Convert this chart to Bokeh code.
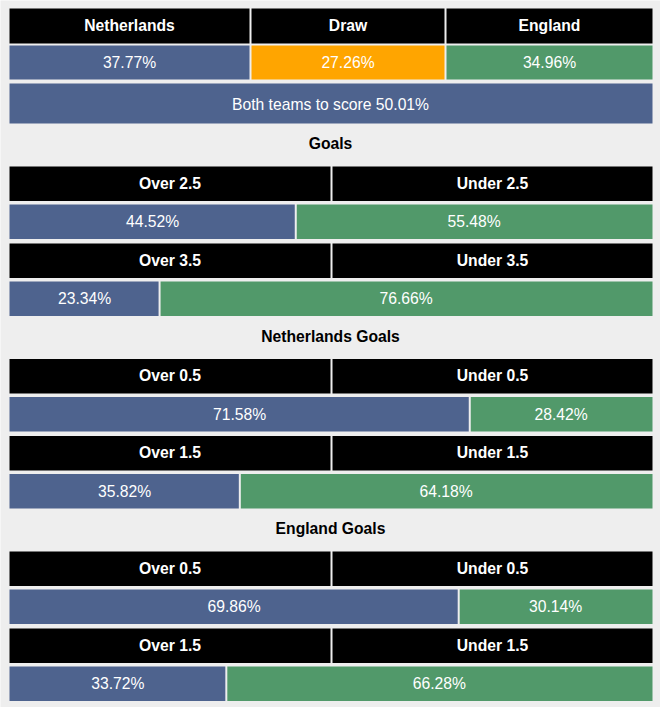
from bokeh.plotting import figure
from bokeh.models import Range1d, ColumnDataSource
from bokeh.core.properties import value
from bokeh.embed import file_html
from bokeh.resources import INLINE

# ---- data ----
outcome_labels = ["Netherlands", "Draw", "England"]
outcome_values = [37.77, 27.26, 34.96]
btts_label = "Both teams to score"
btts_value = 50.01
section_titles = ["Goals", "Netherlands Goals", "England Goals"]
line_labels = [["2.5", "3.5"], ["0.5", "1.5"], ["0.5", "1.5"]]
over_values = [[44.52, 23.34], [71.58, 35.82], [69.86, 33.72]]
under_values = [[55.48, 76.66], [28.42, 64.18], [30.14, 66.28]]

# ---- style ----
BG = "#EEEEEE"
BLUE = "#4E638E"
GREEN = "#51996A"
ORANGE = "#FFA500"
BLACK = "#000000"
FONT = value("Liberation Sans")
FS = "15.7px"

W, H = 660, 707
X0, X1 = 9, 652
TOTAL = X1 - X0
col_edges = [9, 250, 445, 652]
MID = 331

p = figure(width=W, height=H, x_range=Range1d(0, W), y_range=Range1d(H, 0),
           output_backend="svg", toolbar_location=None,
           x_axis_type=None, y_axis_type=None, min_border=0)
p.background_fill_color = BG
p.border_fill_color = BG
p.outline_line_color = None
p.grid.visible = False

rects = dict(left=[], right=[], top=[], bottom=[], color=[])
txt_b = dict(x=[], y=[], text=[], color=[])
txt_n = dict(x=[], y=[], text=[], color=[])

def rect(l, r, t, b, c):
    rects["left"].append(l); rects["right"].append(r)
    rects["top"].append(t); rects["bottom"].append(b); rects["color"].append(c)

def tb(x, y, s, c="white"):
    txt_b["x"].append(x); txt_b["y"].append(y); txt_b["text"].append(s); txt_b["color"].append(c)

def tn(x, y, s, c="white"):
    txt_n["x"].append(x); txt_n["y"].append(y); txt_n["text"].append(s); txt_n["color"].append(c)

# top block: 1X2
colors3 = [BLUE, ORANGE, GREEN]
for i in range(3):
    l = col_edges[i] + (0 if i == 0 else 1)
    r = col_edges[i + 1] - (1 if i < 2 else 0)
    rect(l, r, 8, 43, BLACK)
    rect(l, r, 45, 79, colors3[i])
    cx = (l + r) / 2
    tb(cx, 25, outcome_labels[i])
    tn(cx, 61.5, f"{outcome_values[i]:.2f}%")

rect(X0, X1, 83, 123, BLUE)
tn(330, 104, f"{btts_label} {btts_value:.2f}%")

# sections
for s in range(3):
    base = 166 + 192.5 * s
    tb(330, base - 23, section_titles[s], "black")
    for k in range(2):
        hy = base + 77 * k
        dy = hy + 38
        rect(X0, MID - 1, hy, hy + 34.5, BLACK)
        rect(MID + 1, X1, hy, hy + 34.5, BLACK)
        tb((X0 + MID - 1) / 2, hy + 16.5, f"Over {line_labels[s][k]}")
        tb((MID + 1 + X1) / 2, hy + 16.5, f"Under {line_labels[s][k]}")
        split = X0 + TOTAL * over_values[s][k] / 100.0
        rect(X0, split - 1, dy, dy + 34.5, BLUE)
        rect(split + 1, X1, dy, dy + 34.5, GREEN)
        tn((X0 + split) / 2, dy + 17, f"{over_values[s][k]:.2f}%")
        tn((split + X1) / 2, dy + 17, f"{under_values[s][k]:.2f}%")

p.quad(left="left", right="right", top="top", bottom="bottom", fill_color="color",
       line_color=None, source=ColumnDataSource(rects))
p.text(x="x", y="y", text="text", text_color="color", source=ColumnDataSource(txt_b),
       text_font=FONT, text_font_size=FS, text_font_style="bold",
       text_align="center", text_baseline="middle")
p.text(x="x", y="y", text="text", text_color="color", source=ColumnDataSource(txt_n),
       text_font=FONT, text_font_size=FS, text_font_style="normal",
       text_align="center", text_baseline="middle")

open("out.html", "w").write(file_html(p, INLINE))
